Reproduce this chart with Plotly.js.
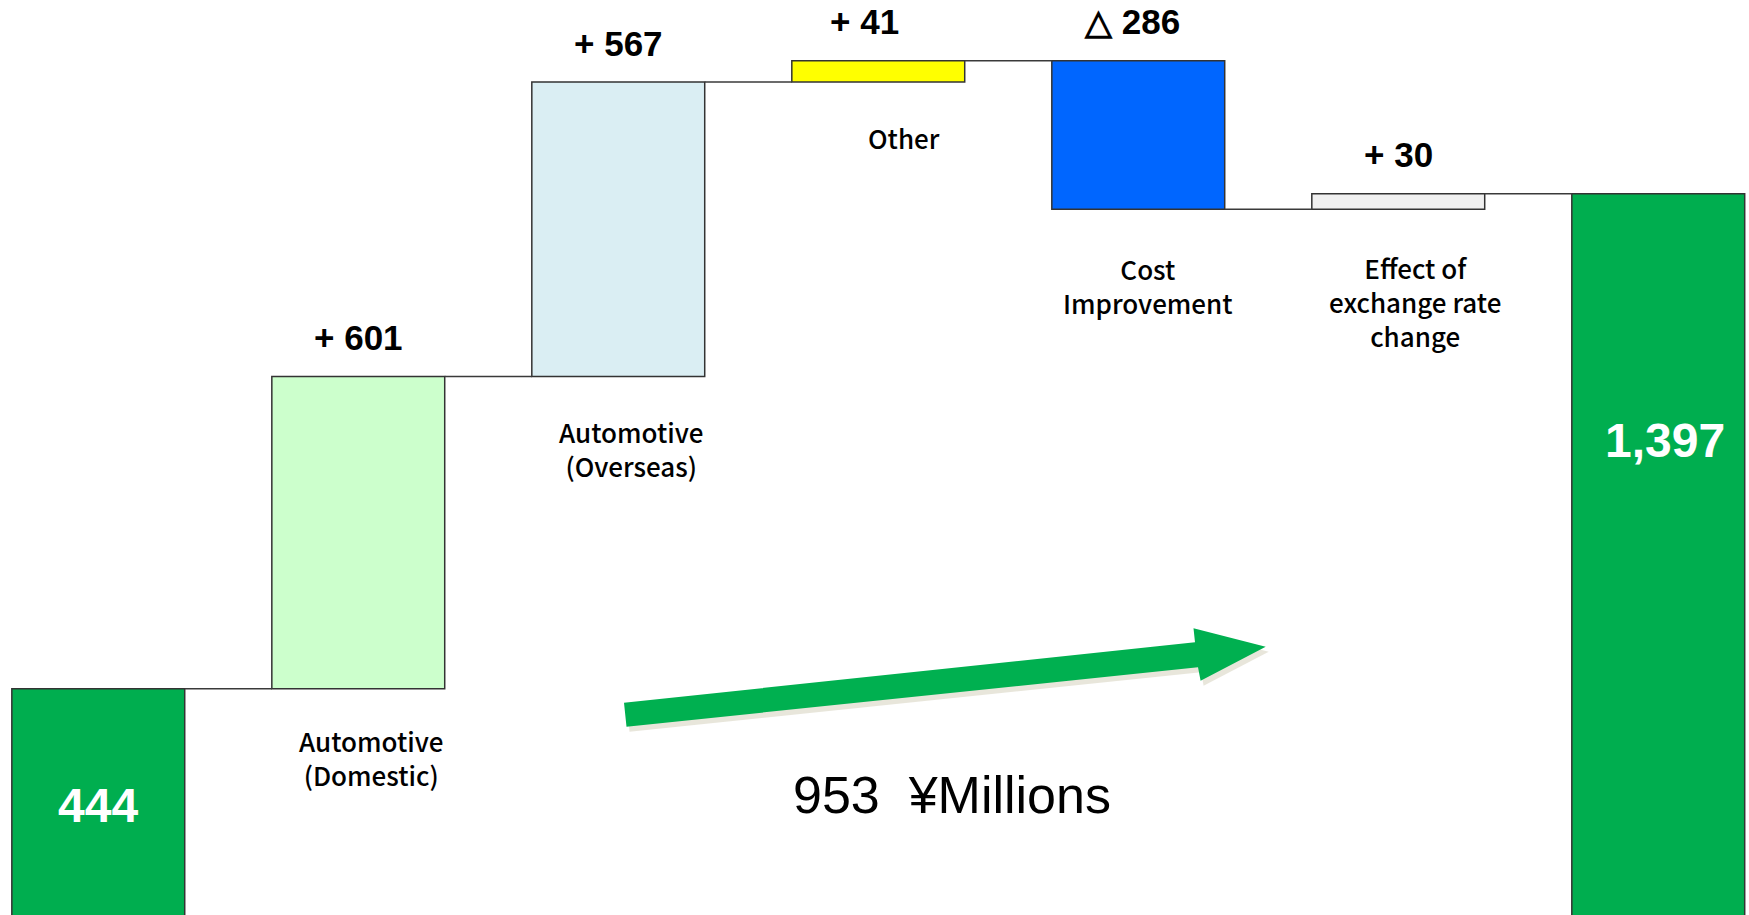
<!DOCTYPE html>
<html><head><meta charset="utf-8">
<script src="https://cdn.plot.ly/plotly-3.0.1.min.js"></script>
<style>html,body{margin:0;padding:0;background:#fff;overflow:hidden}</style>
</head><body><div id="chart" style="width:1749px;height:915px"></div>
<script>
// ---- data ----
const categories = ["Previous", "Automotive<br>(Domestic)", "Automotive<br>(Overseas)", "Other", "Cost<br>Improvement", "Effect of<br>exchange rate<br>change", "Current"];
const measures = ["absolute", "relative", "relative", "relative", "relative", "relative", "total"];
const values = [444, 601, 567, 41, -286, 30, 1397];
const valueLabels = ["444", "+ 601", "+ 567", "+ 41", "△ 286", "+ 30", "1,397"];
const unitLabel = "¥Millions";
const barColors = ["#00AE4F", "#CCFFCC", "#DAEEF3", "#FFFF00", "#0066FF", "#F0F0F0", "#00AE4F"];

// ---- layout constants ----
const W = 1749, H = 915;
const BW = 0.665;
const X_RANGE = [-0.378, 6.349];
const Y_RANGE = [8.3, 1770];
const px = x => x / W;            // pixel -> paper x
const py = y => 1 - y / H;        // pixel -> paper y

// bases from cumulative sums
const bases = [], heights = [], levels = [];
let cum = 0;
values.forEach((v, i) => {
  if (measures[i] === "absolute") { bases.push(0); heights.push(v); cum = v; }
  else if (measures[i] === "relative") { bases.push(cum); heights.push(v); cum += v; }
  else { bases.push(0); heights.push(cum); }
  levels.push(cum);
});
const xs = values.map((_, i) => i);

const bars = {
  type: "bar", x: xs, y: heights, base: bases, width: BW,
  marker: { color: barColors, line: { color: "#333333", width: 1.5 } },
  hoverinfo: "skip", showlegend: false
};

const cx = [], cy = [];
for (let i = 0; i < values.length - 1; i++) {
  cx.push(i + BW / 2, i + 1 - BW / 2, null);
  cy.push(levels[i], levels[i], null);
}
const connectors = {
  type: "scatter", mode: "lines", x: cx, y: cy,
  line: { color: "#3a3a3a", width: 1.5 }, hoverinfo: "skip", showlegend: false
};

// ---- annotations ----
const valFont = { family: "Liberation Sans, Arial, sans-serif", size: 35, color: "#000" };
const catFont = { family: "Noto Sans CJK JP, Noto Sans, sans-serif", size: 26, color: "#000", weight: 500 };
const annotations = [];

// value labels above the bar tops (relative bars)
const valXShift = [0, 0, 0, -14, -6, 0, 0];
for (let i = 1; i < values.length - 1; i++) {
  const top = Math.max(bases[i], bases[i] + heights[i]);
  annotations.push({
    x: xs[i], y: top, xref: "x", yref: "y", text: "<b>" + valueLabels[i] + "</b>",
    showarrow: false, yanchor: "middle", xanchor: "center", yshift: 39, xshift: valXShift[i],
    font: valFont
  });
}
// totals inside bars (white)
annotations.push({ x: xs[0], y: py(805), xref: "x", yref: "paper", yanchor: "middle", text: "<b>" + valueLabels[0] + "</b>",
  showarrow: false, font: { family: "Liberation Sans, Arial, sans-serif", size: 48, color: "#fff" } });
annotations.push({ x: xs[6], y: py(440), xref: "x", yref: "paper", yanchor: "middle", xshift: 7, text: "<b>" + valueLabels[6] + "</b>",
  showarrow: false, font: { family: "Liberation Sans, Arial, sans-serif", size: 48, color: "#fff" } });

// category labels
const catPos = { 1: [13, 757], 2: [13, 449], 3: [26, 137], 4: [10, 285], 5: [17, 301] };
Object.keys(catPos).forEach(k => {
  const i = +k;
  annotations.push({ x: xs[i], y: py(catPos[k][1]), xref: "x", yref: "paper", xshift: catPos[k][0],
    text: categories[i], showarrow: false, yanchor: "middle", font: catFont });
});

// change note
annotations.push({ x: px(952), y: py(795), xref: "paper", yref: "paper", yanchor: "middle", xanchor: "center",
  text: (levels[6] - values[0]) + "  " + unitLabel, showarrow: false,
  font: { family: "Liberation Sans, Arial, sans-serif", size: 52, color: "#000" } });

// ---- arrow ----
const arrowPts = [[624, 702.7], [1195, 642.3], [1193.5, 628.3], [1265.7, 646.7], [1200.6, 680.7], [1198, 667.3], [626.5, 726.7]];
const pathOf = (pts, dx, dy) => "M " + pts.map(p => px(p[0] + dx) + "," + py(p[1] + dy)).join(" L ") + " Z";
const shapes = [
  { type: "path", xref: "paper", yref: "paper", path: pathOf(arrowPts, 3, 5), fillcolor: "rgba(214,210,190,0.55)", line: { width: 0 }, layer: "above" },
  { type: "path", xref: "paper", yref: "paper", path: pathOf(arrowPts, 0, 0), fillcolor: "#00B050", line: { width: 0 }, layer: "above" }
];

const layout = {
  width: W, height: H, margin: { l: 0, r: 0, t: 0, b: 0 },
  paper_bgcolor: "#fff", plot_bgcolor: "#fff", showlegend: false,
  xaxis: { range: X_RANGE, visible: false, fixedrange: true },
  yaxis: { range: Y_RANGE, visible: false, fixedrange: true },
  annotations, shapes, bargap: 0
};
Plotly.newPlot("chart", [bars, connectors], layout, { displayModeBar: false, staticPlot: true });
</script></body></html>
